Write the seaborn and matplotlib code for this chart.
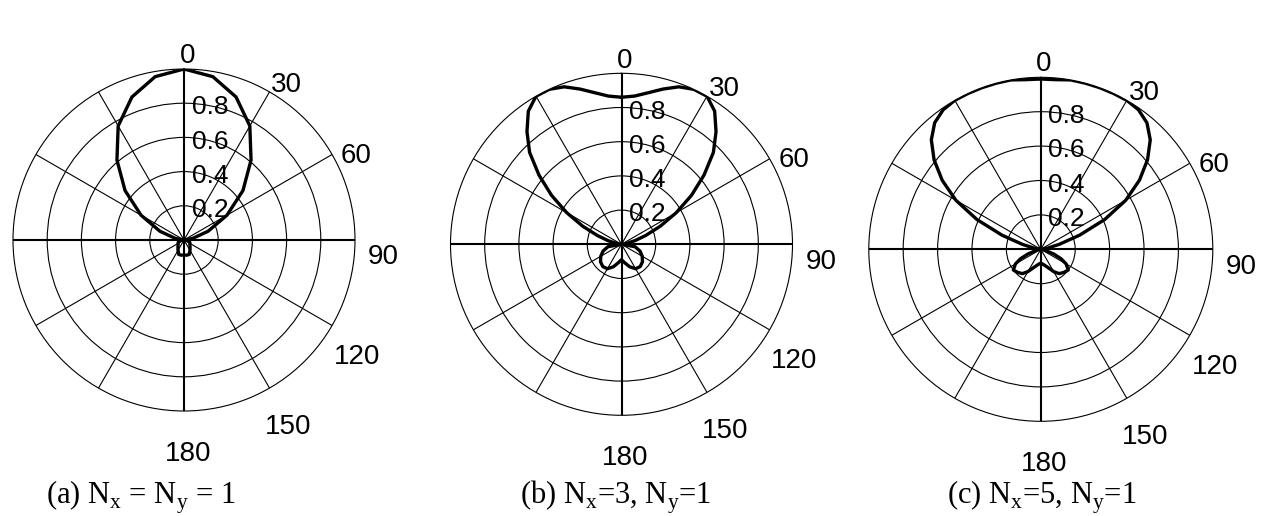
import numpy as np
import pandas as pd
import matplotlib
matplotlib.use("Agg")
import matplotlib.pyplot as plt
import seaborn as sns

# radiation patterns: angle (deg) from 0 to 180,
# the other half is the mirror image about the 0-180 axis
ang_a = [0, 10, 20, 30, 40, 50, 60, 70, 80, 90,
         100, 110, 120, 130, 140, 150, 160, 170, 180]
r_a = [1.00, 0.97, 0.89, 0.77, 0.61, 0.45, 0.29, 0.15, 0.05, 0.0,
       0.03, 0.035, 0.04, 0.045, 0.055, 0.07, 0.09, 0.09, 0.088]

ang_b = [0, 5, 10, 15, 20, 25, 30, 35, 40, 45, 50, 55, 60, 65, 70, 75, 80, 85, 90,
         100, 110, 120, 130, 140, 150, 160, 170, 180]
r_b = [0.86, 0.87, 0.90, 0.94, 0.98, 1.00, 1.00, 0.95, 0.86, 0.76, 0.63, 0.50,
       0.37, 0.25, 0.15, 0.08, 0.03, 0.01, 0.0,
       0.08, 0.115, 0.14, 0.16, 0.17, 0.165, 0.14, 0.11, 0.09]

ang_c = [0, 5, 10, 15, 20, 25, 30, 35, 40, 45, 50, 55, 60, 65, 70, 75, 80, 85, 90,
         100, 110, 115, 120, 127, 135, 143, 150, 160, 170, 180]
r_c = [0.99, 0.99, 1.00, 1.00, 1.00, 1.00, 1.00, 0.99, 0.96, 0.90, 0.81, 0.70,
       0.57, 0.41, 0.24, 0.11, 0.04, 0.01, 0.0,
       0.02, 0.08, 0.13, 0.17, 0.20, 0.19, 0.177, 0.15, 0.11, 0.09, 0.08]

captions = [r"(a) N$_{\mathrm{x}}$ = N$_{\mathrm{y}}$ = 1",
            r"(b) N$_{\mathrm{x}}$=3, N$_{\mathrm{y}}$=1",
            r"(c) N$_{\mathrm{x}}$=5, N$_{\mathrm{y}}$=1"]
angle_labels = ["0", "30", "60", "90", "120", "150", "180"]
r_labels = ["0.2", "0.4", "0.6", "0.8"]
r_ticks = [0.2, 0.4, 0.6, 0.8]

# where the angle labels sit (deg, radius) - they drift outward going round
lab_theta = [1, 33.5, 64, 95, 124, 151, 179]
lab_rad = [1.075, 1.09, 1.12, 1.17, 1.22, 1.25, 1.25]

sns.set_style("white")
plt.rcParams["text.color"] = "black"
plt.rcParams["mathtext.fontset"] = "custom"
plt.rcParams["mathtext.rm"] = "Liberation Serif"
label_font = ["Liberation Sans Narrow", "Liberation Sans"]


def full_circle(ang, r):
    th = list(ang) + [360 - a for a in ang[::-1]]
    rr = list(r) + list(r[::-1])
    return pd.DataFrame({"theta": np.deg2rad(th), "r": rr})


W, H = 1262, 516
fig = plt.figure(figsize=(W / 100, H / 100), dpi=100)

panels = [(ang_a, r_a, 184, 240, 171),
          (ang_b, r_b, 621.5, 244.3, 171),
          (ang_c, r_c, 1040.8, 249.3, 172)]
cap_x = [141, 616, 1042]

for i, (ang, r, cx, cy, R) in enumerate(panels):
    ax = fig.add_axes([(cx - R) / W, (H - cy - R) / H, 2 * R / W, 2 * R / H],
                      projection="polar")
    ax.set_theta_zero_location("N")
    ax.set_theta_direction(-1)
    ax.set_rlim(0, 1)
    ax.set_xticks(np.deg2rad(np.arange(0, 360, 30)))
    ax.set_xticklabels([])
    ax.set_yticks(r_ticks)
    ax.set_yticklabels([])
    ax.grid(True, color="black", linewidth=0.8)
    for k, gl in enumerate(ax.xaxis.get_gridlines()):
        if k % 3 == 0:
            gl.set_linewidth(1.5)
    ax.spines["polar"].set_linewidth(0.8)
    ax.spines["polar"].set_color("black")

    df = full_circle(ang, r)
    sns.lineplot(data=df, x="theta", y="r", sort=False, estimator=None,
                 color="black", linewidth=2.4, ax=ax, zorder=5)
    ax.set_xlabel("")
    ax.set_ylabel("")

    for lbl, t, rr in zip(angle_labels, lab_theta, lab_rad):
        ax.text(np.deg2rad(t), rr, lbl, ha="center", va="center",
                fontsize=20, family=label_font, clip_on=False)
    for lbl, rr in zip(r_labels, r_ticks):
        ax.annotate(lbl, xy=(0, rr), xytext=(5.5, -3), textcoords="offset points",
                    ha="left", va="center", fontsize=19, family=label_font)

    fig.text(cap_x[i] / W, 1 - 504 / H, captions[i], ha="center", va="baseline",
             fontsize=22, family="Liberation Serif")

fig.savefig("out.png", dpi=100, facecolor="white")
